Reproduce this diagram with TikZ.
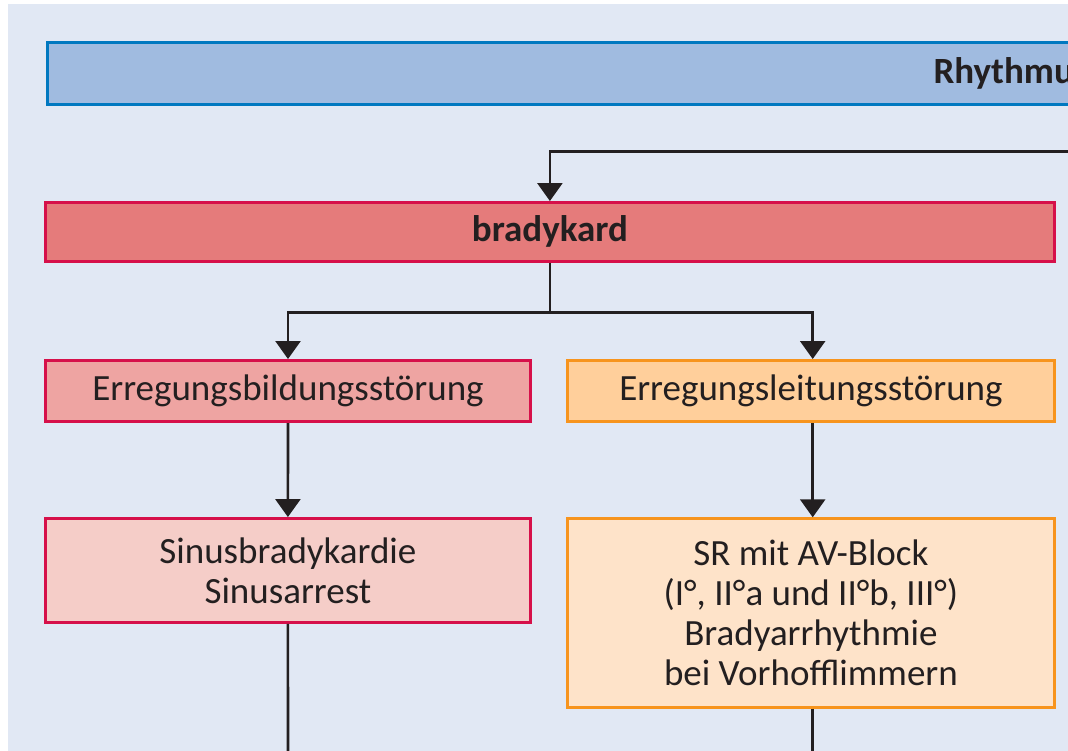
\documentclass[tikz,border=0pt]{standalone}
\usepackage{fontspec}
\setmainfont{Carlito}
\usetikzlibrary{arrows.meta}
\definecolor{bgblue}{RGB}{225,232,244}
\definecolor{topfill}{RGB}{160,187,224}
\definecolor{topline}{RGB}{0,120,192}
\definecolor{redline}{RGB}{214,16,74}
\definecolor{bradyfill}{RGB}{229,123,123}
\definecolor{bildfill}{RGB}{238,164,162}
\definecolor{sinusfill}{RGB}{245,205,200}
\definecolor{orangeline}{RGB}{247,148,29}
\definecolor{leitfill}{RGB}{255,207,155}
\definecolor{srfill}{RGB}{254,227,201}
\definecolor{ink}{RGB}{35,31,32}
\tikzset{
	% boxes of the flow chart
	box/.style={draw,line width=3pt,text=ink,align=center,inner sep=0pt,
		font=\fontsize{37}{40}\selectfont},
	redbox/.style={box,draw=redline,fill=#1},
	orangebox/.style={box,draw=orangeline,fill=#1},
	% connectors
	link/.style={draw=ink,line width=2.6pt},
	arr/.style={link,-{Triangle[width=25pt,length=18pt]}},
}
\begin{document}
\begin{tikzpicture}[x=1pt,y=-1pt]
		\useasboundingbox (0,0) rectangle (1068,751);
		\clip (0,0) rectangle (1068,751);
		\fill[bgblue] (8,4) rectangle (1068,751);
		\node[box,draw=topline,fill=topfill,anchor=north west,minimum height=61.3pt,
			text width=300pt,align=left,inner xsep=886.5pt,font=\fontsize{37}{40}\selectfont\bfseries]
			(rhythmus) at (45.5,41.5) {Rhythmus};
		\node[redbox=bradyfill,minimum width=1008.7pt,minimum height=58.7pt,
			font=\fontsize{37}{40}\selectfont\bfseries] (brady) at (549.9,231.9) {bradykard};
		\node[redbox=bildfill,minimum width=485pt,minimum height=61pt] (bild) at (288,391) {Erregungsbildungsstörung};
		\node[orangebox=leitfill,minimum width=486.7pt,minimum height=61pt] (leit) at (810.9,391) {Erregungsleitungsstörung};
		\node[redbox=sinusfill,minimum width=484.7pt,minimum height=103.7pt] (sinus) at (287.9,570.4) {Sinusbradykardie\\Sinusarrest};
		\node[orangebox=srfill,minimum width=486.7pt,minimum height=188.4pt] (sr) at (810.9,613) {SR mit AV-Block\\(I°, II°a und II°b, III°)\\Bradyarrhythmie\\bei Vorhofflimmern};
		\coordinate (von) at (1080,151.3);
		\coordinate (split) at (549.9,312.5);
		\coordinate (outl) at (288,760);
		\coordinate (outr) at (812.7,760);
		\draw[arr] (von) -| (brady.north);
		\draw[link] (brady.south) -- (split);
		\draw[arr] (split) -| (bild.north);
		\draw[arr] (split) -| ([xshift=1.8pt]leit.north);
		\draw[arr] (bild.south) -- (sinus.north);
		\draw[arr] ([xshift=1.8pt]leit.south) -- ([xshift=1.8pt]sr.north);
		\draw[link] (sinus.south) -- (outl);
		\draw[link] ([xshift=1.8pt]sr.south) -- (outr);
		\end{tikzpicture}
\end{document}
